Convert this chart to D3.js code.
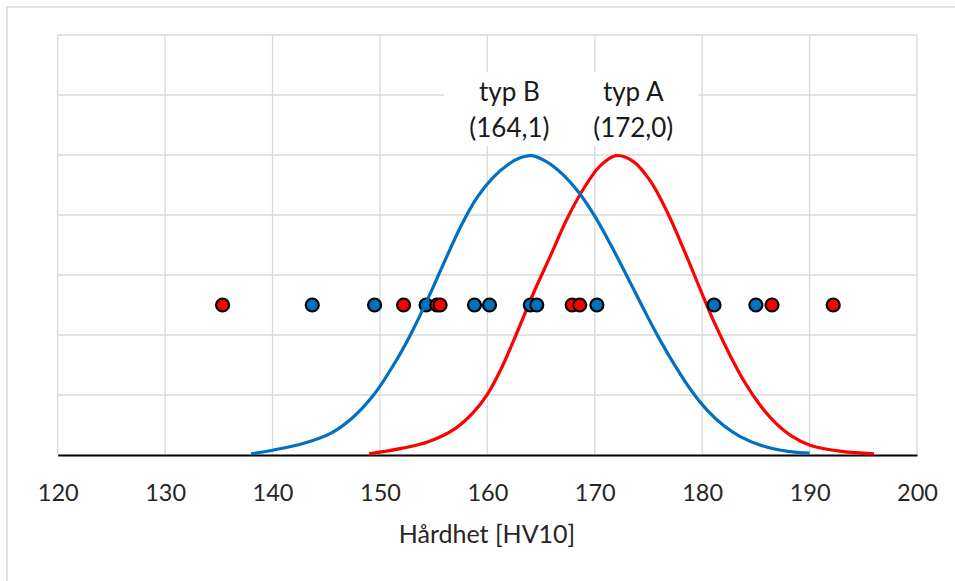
<!DOCTYPE html>
<html>
<head>
<meta charset="utf-8">
<script src="https://cdn.jsdelivr.net/npm/d3@7"></script>
<style>
  html, body { margin: 0; padding: 0; background: #ffffff; }
  svg { display: block; font-family: Lato, "Open Sans", sans-serif; }
</style>
</head>
<body>
<svg id="chart" width="955" height="581"></svg>
<script>
// Hardness axis ticks and grid levels
const xTicks = [120, 130, 140, 150, 160, 170, 180, 190, 200];
const yGrid = [0, 0.01, 0.02, 0.03, 0.04, 0.05, 0.06, 0.07];

// Distribution curve, typ B (mean 164,1)
const curveBX = [138, 140, 143, 145.5, 147.5, 149.5, 151.5, 153, 154.5, 156, 157.5, 159, 160.5, 162, 163, 164.1,
                 165.5, 167, 168.5, 170, 171.5, 173, 174.5, 176, 177.5, 179, 180.5, 182, 183.5, 185.5, 188, 190];
const curveBY = [0.0002, 0.0008, 0.002, 0.0037, 0.0063, 0.0102, 0.0157, 0.0206, 0.0262, 0.0322, 0.038, 0.0428, 0.0462, 0.0485, 0.0495, 0.0499,
                 0.0489, 0.0468, 0.0438, 0.0398, 0.035, 0.0298, 0.0245, 0.0194, 0.0148, 0.0107, 0.0074, 0.0049, 0.0031, 0.0016, 0.0006, 0.0003];

// Distribution curve, typ A (mean 172,0)
const curveAX = [149, 152, 154.5, 157, 158.7, 160, 161.4, 162.9, 164.3, 165.9, 167.4, 169, 170.5, 172,
                 173.6, 175.2, 176.8, 178.3, 179.8, 181.2, 182.6, 184, 185.4, 186.8, 188.3, 190.1, 193, 196];
const curveAY = [0.0002, 0.0011, 0.0022, 0.0044, 0.0071, 0.0101, 0.0148, 0.021, 0.027, 0.0333, 0.0393, 0.0445, 0.0482, 0.0499,
                 0.0489, 0.0456, 0.0403, 0.0342, 0.0277, 0.0218, 0.0166, 0.012, 0.0083, 0.0054, 0.0032, 0.0016, 0.0006, 0.0002];

// Individual measurements
const pointsB = [143.7, 149.5, 154.3, 158.8, 160.2, 164.0, 164.6, 170.2, 181.1, 185.0];
const pointsA = [135.35, 152.2, 155.3, 155.6, 167.9, 168.6, 186.5, 192.2];
const pointLevel = 0.025;

// Curve labels
const labelNames = ["typ B", "typ A"];
const labelMeans = ["(164,1)", "(172,0)"];
const labelAt = [164.1, 172.0];

const colorB = "#0070C0";
const colorA = "#FF0000";

const svg = d3.select("#chart");

// Chart area border
svg.append("rect")
  .attr("x", 7).attr("y", 7)
  .attr("width", 980).attr("height", 620)
  .attr("fill", "none")
  .attr("stroke", "#d9d9d9")
  .attr("stroke-width", 1.5);

const x = d3.scaleLinear().domain([120, 200]).range([57.7, 917]);
const y = d3.scaleLinear().domain([0, 0.07]).range([455, 35]);

// Grid
const grid = svg.append("g").attr("stroke", "#d9d9d9").attr("stroke-width", 1.3);
grid.selectAll("line.v").data(xTicks).join("line")
  .attr("class", "v")
  .attr("x1", d => x(d)).attr("x2", d => x(d))
  .attr("y1", y(0.07)).attr("y2", y(0));
grid.selectAll("line.h").data(yGrid.slice(1)).join("line")
  .attr("class", "h")
  .attr("x1", x(120)).attr("x2", x(200))
  .attr("y1", d => y(d)).attr("y2", d => y(d));

// X axis with tick labels
const xAxis = svg.append("g")
  .attr("transform", `translate(0,${y(0)})`)
  .call(d3.axisBottom(x).tickValues(xTicks).tickSize(0).tickPadding(29).tickFormat(d3.format("d")));
xAxis.select(".domain").attr("stroke", "#000").attr("stroke-width", 2);
xAxis.selectAll("text")
  .attr("font-family", "Lato, 'Open Sans', sans-serif")
  .attr("font-size", 23.5)
  .attr("fill", "#262626");

// Axis title
svg.append("text")
  .attr("x", 487).attr("y", 543)
  .attr("text-anchor", "middle")
  .attr("font-size", 25)
  .attr("fill", "#262626")
  .text("Hårdhet [HV10]");

const line = d3.line()
  .x(d => x(d[0]))
  .y(d => y(d[1]))
  .curve(d3.curveCatmullRom.alpha(0.5));

// typ A curve
svg.append("path")
  .datum(d3.zip(curveAX, curveAY))
  .attr("d", line)
  .attr("fill", "none")
  .attr("stroke", colorA)
  .attr("stroke-width", 3.2);

// Measurement points
const dots = svg.append("g").attr("stroke", "#000").attr("stroke-width", 2.2);
dots.selectAll("circle.b").data(pointsB).join("circle")
  .attr("class", "b")
  .attr("cx", d => x(d)).attr("cy", y(pointLevel)).attr("r", 6.5)
  .attr("fill", colorB);
dots.selectAll("circle.a").data(pointsA).join("circle")
  .attr("class", "a")
  .attr("cx", d => x(d)).attr("cy", y(pointLevel)).attr("r", 6.5)
  .attr("fill", colorA);

// typ B curve
svg.append("path")
  .datum(d3.zip(curveBX, curveBY))
  .attr("d", line)
  .attr("fill", "none")
  .attr("stroke", colorB)
  .attr("stroke-width", 3.2);

// Data labels with white backing
const labelShift = [-22, 17];
const labelBoxW = [130, 130];
labelNames.forEach((name, i) => {
  const cx = x(labelAt[i]) + labelShift[i];
  svg.append("rect")
    .attr("x", cx - labelBoxW[i] / 2).attr("y", 72)
    .attr("width", labelBoxW[i]).attr("height", 74)
    .attr("fill", "#ffffff");
});
labelNames.forEach((name, i) => {
  const cx = x(labelAt[i]) + labelShift[i];
  svg.append("text")
    .attr("x", cx).attr("y", 101)
    .attr("text-anchor", "middle")
    .attr("font-size", 26)
    .attr("fill", "#1a1a1a")
    .text(name);
  svg.append("text")
    .attr("x", cx).attr("y", 137)
    .attr("text-anchor", "middle")
    .attr("font-size", 26)
    .attr("fill", "#1a1a1a")
    .text(labelMeans[i]);
});
</script>
</body>
</html>
